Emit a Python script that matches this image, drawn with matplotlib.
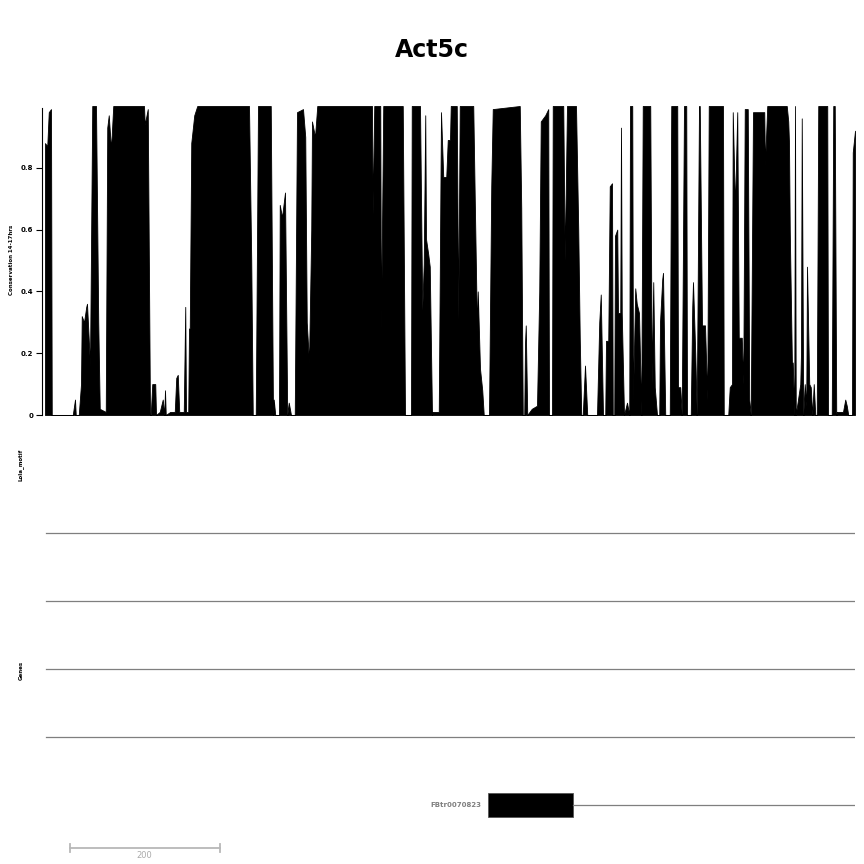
import numpy as np
import matplotlib
matplotlib.use("Agg")
import matplotlib.pyplot as plt

# conservation profile, position in bp from region start, value 0..1
cons_pos = [0, 3, 5, 8, 9, 37, 40, 41, 45, 48, 49, 52, 55, 56, 60, 63, 68, 71, 73,
            81, 83, 85, 88, 91, 132, 133, 137, 140, 141, 143, 147, 148, 153, 157, 159,
            160, 161, 167, 173, 175, 177, 179, 185, 187, 188, 191, 192, 193, 195, 199,
            203, 272, 275, 277, 281, 284, 301, 304, 305, 307, 312, 313, 316, 320, 323,
            325, 328, 333, 336, 344, 347, 349, 352, 355, 356, 360, 363, 436, 437, 439,
            447, 448, 451, 477, 480, 488, 489, 500, 503, 505, 507, 508, 511, 513, 516,
            517, 525, 528, 531, 535, 537, 540, 541, 549, 551, 553, 571, 573, 576, 577,
            580, 583, 585, 592, 595, 597, 633, 635, 637, 639, 640, 641, 643, 649, 656,
            659, 661, 667, 671, 672, 676, 677, 691, 693, 696, 708, 711, 713, 715, 717,
            720, 723, 736, 739, 741, 744, 747, 748, 751, 753, 756, 757, 759, 760, 763,
            764, 767, 768, 769, 772, 776, 779, 780, 783, 784, 787, 789, 792, 795, 797,
            807, 809, 811, 813, 816, 819, 820, 823, 824, 827, 833, 835, 843, 844, 847,
            849, 852, 855, 856, 861, 863, 864, 867, 869, 872, 873, 876, 880, 883, 885,
            904, 905, 911, 913, 916, 917, 920, 923, 925, 929, 931, 933, 937, 939, 941,
            944, 959, 960, 963, 989, 991, 992, 993, 996, 997, 999, 1000, 1001, 1004,
            1007, 1008, 1009, 1011, 1013, 1015, 1016, 1019, 1021, 1023, 1025, 1027,
            1029, 1031, 1043, 1044, 1049, 1051, 1053, 1055, 1056, 1064, 1067, 1069,
            1071, 1076, 1077, 1080]
cons_val = [0.88, 0.87, 0.98, 0.99, 0.0, 0.0, 0.05, 0.0, 0.0, 0.1, 0.32, 0.30, 0.35,
            0.36, 0.16, 1.0, 1.0, 0.3, 0.02, 0.01, 0.93, 0.97, 0.86, 1.0, 1.0, 0.94,
            0.99, 0.0, 0.0, 0.1, 0.1, 0.0, 0.01, 0.05, 0.0, 0.08, 0.0, 0.01, 0.01, 0.12,
            0.13, 0.01, 0.01, 0.35, 0.01, 0.01, 0.28, 0.28, 0.88, 0.97, 1.0, 1.0, 0.5,
            0.0, 0.0, 1.0, 1.0, 0.0, 0.05, 0.0, 0.0, 0.68, 0.64, 0.72, 0.0, 0.04, 0.0,
            0.0, 0.98, 0.99, 0.9, 0.3, 0.17, 0.6, 0.95, 0.9, 1.0, 1.0, 0.65, 1.0, 1.0,
            0.28, 1.0, 1.0, 0.0, 0.0, 1.0, 1.0, 0.34, 0.49, 0.97, 0.57, 0.52, 0.48, 0.0,
            0.01, 0.01, 0.98, 0.77, 0.77, 0.89, 0.89, 1.0, 1.0, 0.31, 1.0, 1.0, 0.7,
            0.27, 0.4, 0.15, 0.08, 0.0, 0.0, 0.74, 0.99, 1.0, 0.67, 0.0, 0.0, 0.23, 0.29,
            0.0, 0.02, 0.03, 0.4, 0.95, 0.97, 0.99, 0.0, 0.0, 1.0, 1.0, 0.5, 1.0, 1.0,
            0.6, 0.25, 0.0, 0.0, 0.16, 0.0, 0.0, 0.3, 0.39, 0.0, 0.0, 0.24, 0.24, 0.74,
            0.75, 0.0, 0.0, 0.58, 0.6, 0.33, 0.33, 0.93, 0.33, 0.0, 0.04, 0.0, 1.0, 1.0,
            0.05, 0.41, 0.36, 0.33, 0.0, 1.0, 1.0, 0.1, 0.43, 0.09, 0.0, 0.0, 0.3, 0.44,
            0.46, 0.0, 0.0, 1.0, 1.0, 0.09, 0.09, 0.0, 1.0, 1.0, 0.0, 0.0, 0.35, 0.43,
            0.2, 0.0, 1.0, 1.0, 0.29, 0.29, 0.05, 1.0, 1.0, 0.0, 0.0, 0.09, 0.1, 0.98,
            0.67, 0.98, 0.25, 0.25, 0.1, 0.99, 0.99, 0.05, 0.0, 0.98, 0.98, 0.81, 1.0,
            1.0, 0.95, 0.88, 0.6, 0.15, 0.17, 0.0, 1.0, 0.0, 0.05, 0.1, 0.2, 0.96, 0.0,
            0.1, 0.03, 0.48, 0.1, 0.09, 0.0, 0.1, 0.0, 0.0, 1.0, 1.0, 0.0, 0.0, 1.0, 1.0,
            0.0, 0.01, 0.01, 0.05, 0.03, 0.0, 0.0, 0.85, 0.92]

region = (0, 1080)
yticks = [0, 0.2, 0.4, 0.6, 0.8]
ytick_labels = ["0", "0.2", "0.4", "0.6", "0.8"]

# transcript model
tx_name = "FBtr0070823"
exon_start, exon_end = 591, 704
tx_end = 1080
scale_start, scale_len = 33, 200

W = H = 864
fig = plt.figure(figsize=(8.64, 8.64), dpi=100)


def fx(px):
    return px / W


def fy(py):
    return 1 - py / H


fig.text(0.5, fy(50), "Act5c", ha="center", va="center", fontsize=17, fontweight="bold")

# --- conservation track
ax = fig.add_axes([fx(45), fy(415), fx(855 - 45), (415 - 106) / H])
ax.fill_between(cons_pos, 0, cons_val, color="black", lw=0.6)
ax.set_xlim(*region)
ax.set_ylim(0, 1.0)
for s in ["top", "right", "bottom"]:
    ax.spines[s].set_visible(False)
ax.spines["left"].set_position(("outward", 2.5))
ax.spines["left"].set_bounds(0, 0.995)
ax.spines["left"].set_linewidth(0.8)
ax.set_xticks([])
ax.set_yticks(yticks)
ax.set_yticklabels(ytick_labels, fontsize=5, fontweight="bold")
ax.tick_params(axis="y", length=4, width=0.8, pad=2)
ax.axhline(0, color="#d0d0d0", lw=0.8, zorder=0)
fig.text(fx(12), fy(260), "Conservation 14-17hrs", rotation=90, ha="center",
         va="center", fontsize=4, fontweight="bold")

# --- lower tracks (motif, genes, scale bar)
low = fig.add_axes([fx(45), 0, fx(855 - 45), fy(420)])
low.set_xlim(*region)
low.set_ylim(H, 420)
low.axis("off")

for y in [533, 601, 669, 737]:
    low.plot([1, region[1]], [y, y], color="#7f7f7f", lw=0.9)

fig.text(fx(21), fy(465), "Lola_motif", rotation=90, ha="center", va="center",
         fontsize=4, fontweight="bold")
fig.text(fx(21), fy(670), "Genes", rotation=90, ha="center", va="center",
         fontsize=4, fontweight="bold")

low.plot([exon_end, tx_end], [805, 805], color="#7f7f7f", lw=0.9)
low.add_patch(plt.Rectangle((exon_start, 793), exon_end - exon_start, 24,
                            facecolor="black", edgecolor="#555555", lw=0.6))
low.text(exon_start - 9, 805, tx_name, ha="right", va="center", fontsize=5,
         fontweight="bold", color="#808080")

sc = "#b8b8b8"
low.plot([scale_start, scale_start + scale_len], [848, 848], color=sc, lw=1.3)
low.plot([scale_start, scale_start], [844, 852], color=sc, lw=1.3)
low.plot([scale_start + scale_len] * 2, [844, 852], color=sc, lw=1.3)
low.text(scale_start + scale_len / 2, 855, str(scale_len), ha="center", va="center",
         fontsize=6, color="#aaaaaa")

fig.savefig("out.png", dpi=100, facecolor="white")
